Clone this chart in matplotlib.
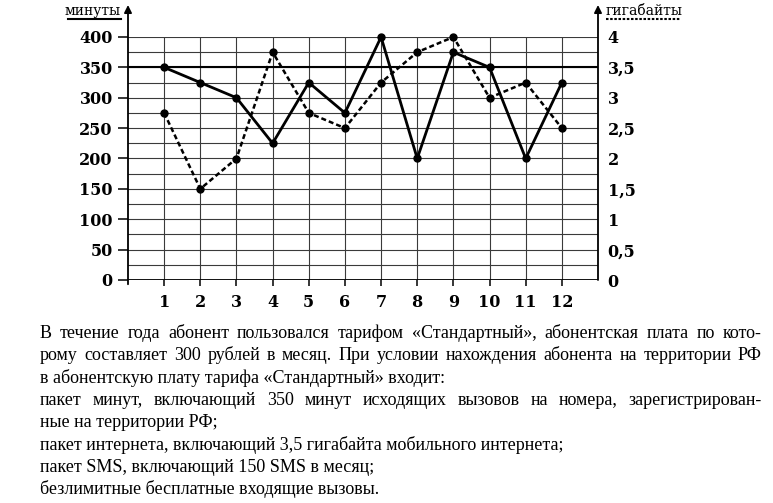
import matplotlib
matplotlib.use("Agg")
import matplotlib.pyplot as plt
from matplotlib.lines import Line2D

months = list(range(1, 13))
minutes = [350, 325, 300, 225, 325, 275, 400, 200, 375, 350, 200, 325]
gigabytes = [2.75, 1.5, 2, 3.75, 2.75, 2.5, 3.25, 3.75, 4, 3, 3.25, 2.5]
min_ticks = list(range(0, 401, 50))
gb_ticks = [0, 0.5, 1, 1.5, 2, 2.5, 3, 3.5, 4]
gb_labels = ["0", "0,5", "1", "1,5", "2", "2,5", "3", "3,5", "4"]
limit_minutes = 350

text_lines = [
    "В течение года абонент пользовался тарифом «Стандартный», абонентская плата по кото-",
    "рому составляет 300 рублей в месяц. При условии нахождения абонента на территории РФ",
    "в абонентскую плату тарифа «Стандартный» входит:",
    "пакет минут, включающий 350 минут исходящих вызовов на номера, зарегистрирован-",
    "ные на территории РФ;",
    "пакет интернета, включающий 3,5 гигабайта мобильного интернета;",
    "пакет SMS, включающий 150 SMS в месяц;",
    "безлимитные бесплатные входящие вызовы.",
]
justified = [True, True, False, True, False, False, False, False]

W, H = 773, 503
serif = ["DejaVu Serif"]
body = ["Liberation Serif", "DejaVu Serif"]


def px(x, y):
    return x / W, 1 - y / H


fig = plt.figure(figsize=(W / 100, H / 100), dpi=100)
fig.patch.set_facecolor("white")

x0, x1, y0, y1 = 128, 598, 280, 37
ax = fig.add_axes([x0 / W, 1 - y0 / H, (x1 - x0) / W, (y0 - y1) / H])
ax.set_xlim(0, 13)
ax.set_ylim(0, 400)
for s in ax.spines.values():
    s.set_visible(False)

# grid
for v in range(0, 401, 25):
    ax.plot([0, 13], [v, v], color="#3a3a3a", lw=0.8, zorder=1)
ax.vlines(months, 0, 400, color="#3a3a3a", lw=0.8, zorder=1)
ax.plot([0, 13], [limit_minutes] * 2, color="black", lw=1.5, zorder=2)
ax.plot([0, 13], [0, 0], color="black", lw=1.3, zorder=2)

# axes with arrows
top = 400 + (y1 - 5) / (y0 - y1) * 400
for xa in (0, 13):
    ax.annotate("", xy=(xa, top), xytext=(xa, -7 if xa == 0 else 0),
                arrowprops=dict(arrowstyle="-|>", lw=1.3, color="black",
                                mutation_scale=11, shrinkA=0, shrinkB=0),
                annotation_clip=False, zorder=3)

ax.set_xticks(months)
ax.set_xticklabels([str(m) for m in months], fontfamily=serif, fontsize=11.5,
                   fontweight="semibold")
ax.tick_params(axis="x", direction="out", length=4, width=1.1, pad=6)
ax.set_yticks(min_ticks)
ax.set_yticklabels([str(v) for v in min_ticks], fontfamily=serif,
                   fontsize=11.5, fontweight="semibold")
ax.tick_params(axis="y", direction="out", length=7, width=1.1, pad=4)

ax.plot(months, minutes, color="black", lw=2, marker="o", ms=5, zorder=4,
        clip_on=False)

ax2 = ax.twinx()
ax2.set_ylim(0, 4)
for s in ax2.spines.values():
    s.set_visible(False)
ax2.set_yticks(gb_ticks)
ax2.set_yticklabels(gb_labels, fontfamily=serif, fontsize=11.5,
                    fontweight="semibold")
ax2.tick_params(axis="y", length=0, pad=7)
ax2.plot(months, gigabytes, color="black", lw=1.8, ls=(0, (2, 1.2)),
         marker="o", ms=5, zorder=4, clip_on=False)

# axis titles
fig.text(*px(121, 11), "минуты", ha="right", va="center", fontfamily=serif,
         fontsize=10)
fig.add_artist(Line2D([68 / W, 121 / W], [1 - 19 / H] * 2, color="black", lw=1.5))
fig.text(*px(606, 11), "гигабайты", ha="left", va="center", fontfamily=serif,
         fontsize=10)
fig.add_artist(Line2D([606 / W, 680 / W], [1 - 19 / H] * 2, color="black",
                      lw=1.5, ls=(0, (1.2, 0.8))))

# paragraph
renderer = fig.canvas.get_renderer()
left, right = 40, 762
fsize = 13
for i, (line, just) in enumerate(zip(text_lines, justified)):
    yb = 338 + i * 22.3
    if not just:
        fig.text(*px(left, yb), line, ha="left", va="baseline",
                 fontfamily=body, fontsize=fsize)
        continue
    words = line.split(" ")
    arts = [fig.text(*px(left, yb), w, ha="left", va="baseline",
                     fontfamily=body, fontsize=fsize) for w in words]
    widths = [a.get_window_extent(renderer).width for a in arts]
    gap = (right - left - sum(widths)) / (len(words) - 1)
    xpos = left
    for a, w in zip(arts, widths):
        a.set_position(px(xpos, yb))
        xpos += w + gap

fig.savefig("out.png", dpi=100)
